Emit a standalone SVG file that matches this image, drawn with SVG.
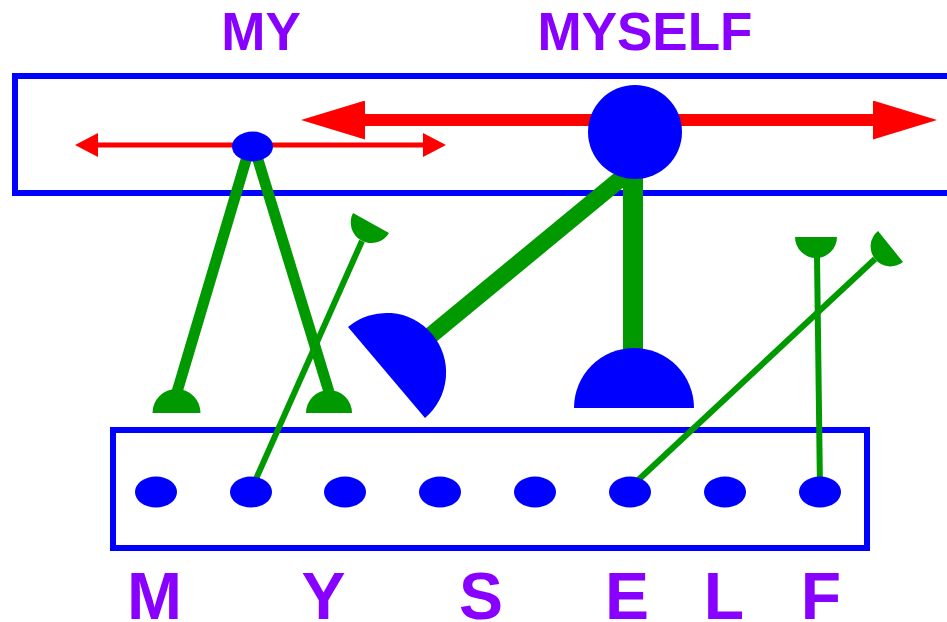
<svg xmlns="http://www.w3.org/2000/svg" width="947" height="622" viewBox="0 0 947 622">
<style>
.box{fill:none;stroke:#0000ff;stroke-width:6}
.blue{fill:#0000ff}
.green{fill:#009900}
.gl{stroke:#009900;fill:none;stroke-linecap:butt}
.red{stroke:#ff0000;fill:none}
.lbl{font-family:"Liberation Sans",Arial,Helvetica,sans-serif;font-weight:bold;fill:#8800ff;text-anchor:middle}
.top{font-size:53px}
.bot{font-size:66px}
</style>
<defs>
<marker id="headS" markerUnits="userSpaceOnUse" viewBox="0 0 23 24" markerWidth="23" markerHeight="24" refX="0" refY="12" orient="auto-start-reverse">
<path d="M0,0 L23,12 L0,24 Z" fill="#ff0000"/>
</marker>
<marker id="headL" markerUnits="userSpaceOnUse" viewBox="0 0 64 39" markerWidth="64" markerHeight="39" refX="0" refY="19.5" orient="auto-start-reverse">
<path d="M0,0 L64,19.5 L0,39 Z" fill="#ff0000"/>
</marker>
</defs>
<rect width="947" height="622" fill="#ffffff"/>

<g id="topBox"><rect class="box" x="15" y="76" width="945" height="117"/></g>
<g id="letterBox"><rect class="box" x="113" y="430" width="754" height="118"/></g>

<g id="connectors">
<line class="red" x1="98" y1="145" x2="423" y2="145" stroke-width="5" marker-start="url(#headS)" marker-end="url(#headS)"/>
<line class="red" x1="365" y1="120" x2="873" y2="120" stroke-width="12" marker-start="url(#headL)" marker-end="url(#headL)"/>
<line class="gl" x1="249" y1="150" x2="177" y2="392" stroke-width="11"/>
<line class="gl" x1="255" y1="150" x2="329" y2="392" stroke-width="11"/>
<line class="gl" x1="362" y1="241" x2="251" y2="490" stroke-width="6"/>
<line class="gl" x1="875" y1="259" x2="635" y2="483" stroke-width="6"/>
<line class="gl" x1="817" y1="256" x2="820" y2="490" stroke-width="6"/>
<line class="gl" x1="624" y1="176" x2="430" y2="336" stroke-width="17"/>
<line class="gl" x1="633" y1="170" x2="633" y2="356" stroke-width="20"/>
</g>

<g id="anchors">
<path id="footM" class="green" d="M152.5,413 A24,24 0 0 1 200.5,413 Z"/>
<path id="footY" class="green" d="M306,413 A23,23 0 0 1 352,413 Z"/>
<path id="cupY" class="green" d="M353,213 A20.6,20.6 0 0 0 389,233 Z"/>
<path id="cupE" class="green" d="M878,231 A19.9,19.9 0 0 0 903,262 Z"/>
<path id="cupF" class="green" d="M795,237 A21,21 0 0 0 837,237 Z"/>
</g>

<g id="nodeMY"><ellipse class="blue" cx="252.5" cy="146.5" rx="20.5" ry="15"/></g>
<g id="nodeMYSELF"><circle class="blue" cx="635" cy="132" r="47"/></g>
<g id="halfTilted"><path class="blue" d="M348,327 A59.6,59.6 0 0 1 425,418 Z"/></g>
<g id="halfUpright"><path class="blue" d="M574,408 A60,60 0 0 1 694,408 Z"/></g>

<g id="dots">
<ellipse class="blue" cx="156" cy="492" rx="21" ry="15.5"/>
<ellipse class="blue" cx="251" cy="492" rx="21" ry="15.5"/>
<ellipse class="blue" cx="345" cy="492" rx="21" ry="15.5"/>
<ellipse class="blue" cx="440" cy="492" rx="21" ry="15.5"/>
<ellipse class="blue" cx="535" cy="492" rx="21" ry="15.5"/>
<ellipse class="blue" cx="630" cy="492" rx="21" ry="15.5"/>
<ellipse class="blue" cx="725" cy="492" rx="21" ry="15.5"/>
<ellipse class="blue" cx="820" cy="492" rx="21" ry="15.5"/>
</g>

<g id="labels">
<text class="lbl top" x="261" y="50">MY</text>
<text class="lbl top" x="645" y="50">MYSELF</text>
<text class="lbl bot" x="154.5" y="619">M</text>
<text class="lbl bot" x="323.5" y="619">Y</text>
<text class="lbl bot" x="481" y="619">S</text>
<text class="lbl bot" x="627" y="619">E</text>
<text class="lbl bot" x="724" y="619">L</text>
<text class="lbl bot" x="821" y="619">F</text>
</g>
</svg>
